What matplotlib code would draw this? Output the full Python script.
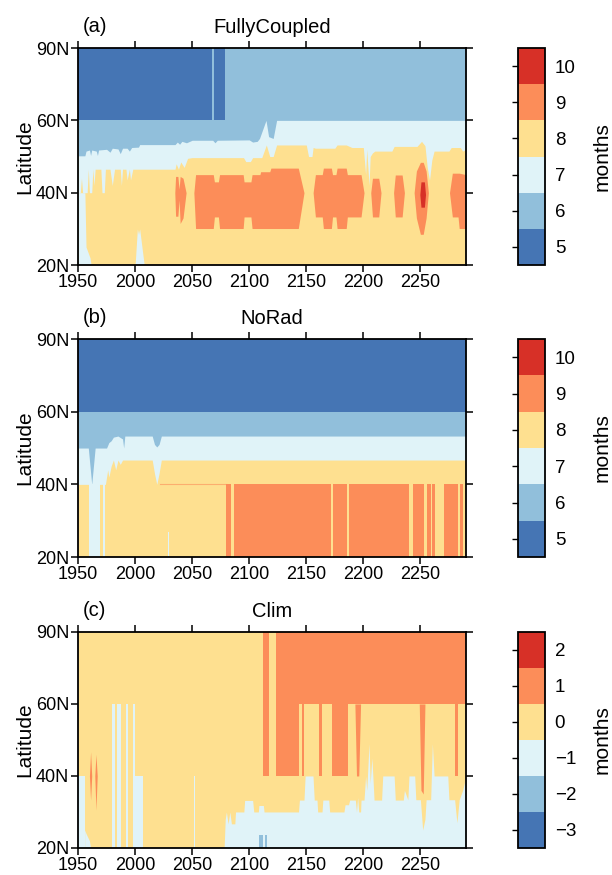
import numpy as np
import matplotlib
matplotlib.use("Agg")
import matplotlib.pyplot as plt
import matplotlib.cm as cm
from matplotlib.colors import ListedColormap, BoundaryNorm

plt.rcParams['font.family'] = ['Liberation Sans', 'DejaVu Sans']

# class colours (low -> high)
colors = ["#4575b4", "#91bfdb", "#e0f3f8", "#fee090", "#fc8d59", "#d73027"]
DB, LB, PL, YE, OR, RD = colors

# ---------------- (a) FullyCoupled ----------------
# boundary light blue (above) / pale (below)
a_b67_yr = [1950, 1956, 1957, 1960, 1961, 1962, 1966, 1967, 1968, 1975, 1978, 1980, 1985, 1987,
            1989, 1993, 1995, 1997, 2003, 2004, 2035, 2037, 2039, 2041, 2045, 2050, 2068, 2070,
            2072, 2100, 2103, 2107, 2109, 2114.7, 2117, 2121, 2124, 2290]
a_b67_lat = [50.2, 50.2, 51.5, 51.8, 50.3, 51.8, 51.5, 50.3, 51.8, 52, 51.2, 52.3, 52.1, 50.8,
             52.3, 52.3, 51.5, 52.5, 52.6, 53.3, 53.3, 54, 53.4, 54.2, 53.8, 54.5, 54.5, 53.8,
             54.5, 54.6, 54, 54.2, 55, 60, 55.5, 55, 60, 60]
# boundary pale (above) / yellow (below)
a_b78_yr = [1950, 1952, 1953, 1954, 1958, 1959, 1960, 1962, 1963, 1964, 1965, 1970, 1971, 1973,
            1974, 1978, 1980, 1982, 1987, 1988, 1989, 1992, 1993, 1995, 1996, 1998, 2035, 2036,
            2038, 2040, 2043, 2046, 2050, 2095, 2097, 2101, 2103, 2111, 2115, 2118, 2121, 2124,
            2150, 2152, 2155, 2156, 2158, 2175, 2177, 2185, 2190, 2200, 2202, 2203, 2205, 2206,
            2208, 2210, 2225, 2227, 2247, 2251, 2254, 2256, 2258, 2260, 2262, 2275, 2277, 2285,
            2287, 2290]
a_b78_lat = [40, 40, 44, 40, 40, 46.5, 40, 40, 46.5, 42, 46.5, 46.5, 40, 40,
             46.5, 46.5, 42, 46.5, 46.5, 42, 46.5, 46.5, 43.5, 46.5, 43.5, 46.5, 46.5, 48,
             46.5, 48.5, 47, 49.5, 49.7, 49.7, 48.6, 48.6, 49.7, 49.7, 53.2, 50, 50, 53.2,
             53.2, 50, 50, 52.5, 52.3, 52.3, 53.2, 53.2, 52.5, 52.5, 45, 52, 42, 50,
             51, 51.5, 51.5, 52.8, 52.8, 54.2, 53, 47, 43.5, 49, 51.5, 51.5, 52.5, 52.5,
             51.5, 52]
a_dark_spans = [(1950, 2067.5), (2069.5, 2079)]          # 60N-90N dark blue
a_pale_low_yr = [1950, 1956, 1957, 1960.5, 1961.5]
a_pale_low_top = [40, 40, 25, 22, 20]
a_pale_spike_yr = [2000, 2002, 2003, 2004, 2006, 2008]
a_pale_spike_top = [20, 30, 28.5, 30, 25, 20]
# orange blobs: (years, lower, upper)
a_orange = [
    ([2034.8, 2035.5, 2037.5, 2038.5, 2039.5, 2042, 2044.7],
     [40, 33.5, 33.5, 38, 31.5, 33, 40],
     [40, 44.5, 44.5, 41, 44.5, 44, 40]),
    ([2051.5, 2053, 2068.5, 2069.5, 2073, 2074, 2094.7, 2095.5, 2101.5, 2102.5, 2109.4, 2110,
      2118, 2119, 2143, 2148],
     [40, 30.1, 30.1, 33.3, 33.3, 30.1, 30.1, 33.3, 33.3, 30.1, 30.1, 30.1, 30.1, 30.1, 30.1, 40],
     [40, 45, 45, 43, 43, 45, 45, 43, 43, 45, 45, 45.8, 45.8, 46.8, 46.8, 40]),
    ([2156, 2158, 2164, 2165, 2172, 2173, 2176, 2177, 2185, 2186, 2198, 2200.6],
     [40, 33.3, 33.3, 30.1, 30.1, 33.3, 33.3, 30.1, 30.1, 33.3, 33.3, 40],
     [40, 45, 45, 46.8, 46.8, 45, 45, 46.8, 46.8, 45, 45, 40]),
    ([2206.5, 2208, 2213.5, 2215.5], [40, 33.3, 33.3, 40], [40, 44, 44, 40]),
    ([2226.5, 2228, 2234, 2236], [40, 33.3, 33.3, 40], [40, 44.9, 44.9, 40]),
    ([2244.5, 2246.5, 2250, 2252.5, 2255, 2257], [40, 33, 28.5, 28.5, 33, 40],
     [40, 46, 48.4, 48.4, 46, 40]),
    ([2275.5, 2278, 2283, 2284, 2290], [40, 33.3, 33.3, 30.1, 30.1], [40, 45.4, 45.4, 45.4, 45]),
]
a_red = ([2249.5, 2250.5, 2253.5, 2254.5], [39.5, 36, 36, 39.5], [39.5, 43, 43, 39.5])

# ---------------- (b) NoRad ----------------
b_b67_yr = [1950, 1959, 1960.5, 1962, 1963.5, 1965, 1975, 1977, 1979, 1981, 1985, 1989, 1990,
            1991, 2015, 2017, 2019, 2021, 2023, 2290]
b_b67_lat = [50, 50, 45, 40, 45, 50, 50, 51.5, 52, 53, 53.3, 52.5, 50,
             53.3, 53.3, 51, 50.3, 51, 53.3, 53.3]
b_b78_yr = [1950, 1974, 1976, 1977, 1979, 1981, 1983, 1985, 1987, 1989, 2015, 2017, 2019, 2021,
            2023, 2290]
b_b78_lat = [40, 40, 44, 42, 45, 46.7, 44, 46.7, 45.5, 46.7, 46.7, 43, 40, 43, 46.7, 46.7]
b_pale_low = [(1959.4, 1969.6, 20, 40), (1971.6, 1974, 20, 40), (2028.7, 2029.3, 20, 27)]
b_orange_spans = [(2080, 2084.4), (2086.5, 2171.8), (2173.5, 2186), (2187.6, 2240),
                  (2243.5, 2253), (2256, 2259.5), (2260.5, 2263), (2271, 2283), (2284.5, 2287)]

# ---------------- (c) Clim ----------------
c_orange_top = [(2112.4, 2117.4, 40, 90), (2123.5, 2290, 60, 90), (2123.5, 2143.2, 40, 60),
                (2146, 2148, 40, 60), (2161, 2164, 40, 60), (2172.6, 2184.4, 40, 60),
                (2185, 2186.5, 40, 60), (2280, 2283, 40, 60)]
c_orange_tip = [([2192.6, 2194, 2196, 2197.6], [60, 40, 40, 60]),
                ([2249, 2250.5, 2252.5, 2254], [60, 36, 35, 60])]
c_pale_yr = [2078, 2079, 2080, 2081.5, 2083, 2084.4, 2087.4, 2088, 2095.3, 2096, 2103, 2104,
             2108, 2108.5, 2112.4, 2113, 2143.2, 2144, 2148, 2149, 2155.9, 2157, 2159.4, 2160,
             2163.8, 2164.5, 2169.7, 2170.5, 2183, 2184, 2187, 2188, 2193, 2194, 2195, 2196,
             2197.6, 2198, 2200.6, 2202, 2203, 2205, 2206, 2207.5, 2209, 2209.4, 2216, 2217,
             2227, 2228, 2235, 2236, 2239, 2240, 2245, 2246, 2250, 2252, 2254, 2255, 2259,
             2260.5, 2262, 2274, 2275, 2280, 2282, 2284, 2287, 2290]
c_pale_top = [20, 28, 30, 26.7, 30, 26.7, 26.7, 30, 30, 33.2, 33.2, 30,
              30, 31.8, 31.8, 30, 30, 33.3, 33.3, 40, 40, 33.3, 33.3, 30,
              30, 33.3, 33.3, 30, 30, 32, 32, 33.3, 33.3, 30, 34, 30,
              30, 33.3, 33.3, 40, 36, 49, 38, 45, 36, 33.3, 33.3, 40,
              40, 33.3, 33.3, 36, 33.4, 40, 40, 33.4, 33.4, 25, 28, 33.4, 33.4,
              49, 40, 40, 33.4, 33.4, 27, 33.4, 36, 40]
c_pale_strips = [(1950, 1955.8, 20, 40), (1980, 1982.4, 20, 60), (1984, 1988, 20, 60),
                 (1991.8, 1994, 20, 60), (1998.5, 2000, 20, 60), (2000, 2007, 20, 40),
                 (2051.5, 2052.6, 20, 40)]
c_pale_low_yr = [1955.8, 1957, 1960, 1961]
c_pale_low_top = [25, 24, 22, 20]
c_blue_spans = [(2108.5, 2112, 20, 23.7), (2114, 2115.5, 20, 23.7)]
c_orange_left = [([1960, 1961, 1962], [40, 33.3, 40], [40, 46.7, 40]),
                 ([1964.7, 1965.7, 1966.8], [40, 30.5, 40], [40, 46, 40])]

titles = ["FullyCoupled", "NoRad", "Clim"]
tags = ["(a)", "(b)", "(c)"]
cb_levels = [np.arange(4.5, 11, 1), np.arange(4.5, 11, 1), np.arange(-3.5, 3, 1)]
cb_ticks = [list(range(5, 11)), list(range(5, 11)), list(range(-3, 3))]


def fwd(lat):
    return np.interp(lat, [20, 40, 60, 90], [0, 1, 2, 3])


def inv(y):
    return np.interp(y, [0, 1, 2, 3], [20, 40, 60, 90])


def fill(ax, x, lo, hi, c):
    ax.fill_between(x, lo, hi, color=c, lw=0)


def rect(ax, x0, x1, lo, hi, c):
    ax.fill_between([x0, x1], [lo, lo], [hi, hi], color=c, lw=0)


fig = plt.figure(figsize=(6.12, 8.75), dpi=100)
ax_pos = [[0.1275, 0.6971, 0.634, 0.248], [0.1275, 0.3634, 0.634, 0.2491],
          [0.1275, 0.0309, 0.634, 0.2469]]
axes = [fig.add_axes(p) for p in ax_pos]
for ax in axes:
    ax.set_yscale('function', functions=(fwd, inv))
    rect(ax, 1950, 2290, 20, 90, YE)

# panel a
ax = axes[0]
fill(ax, a_b78_yr, a_b78_lat, 90, PL)
fill(ax, a_b67_yr, a_b67_lat, 90, LB)
for x0, x1 in a_dark_spans:
    rect(ax, x0, x1, 60, 90, DB)
fill(ax, a_pale_low_yr, 20, a_pale_low_top, PL)
fill(ax, a_pale_spike_yr, 20, a_pale_spike_top, PL)
for yr, lo, hi in a_orange:
    fill(ax, yr, lo, hi, OR)
fill(ax, a_red[0], a_red[1], a_red[2], RD)

# panel b
ax = axes[1]
fill(ax, b_b78_yr, b_b78_lat, 90, PL)
fill(ax, b_b67_yr, b_b67_lat, 90, LB)
rect(ax, 1950, 2290, 60, 90, DB)
for x0, x1, lo, hi in b_pale_low:
    rect(ax, x0, x1, lo, hi, PL)
for x0, x1 in b_orange_spans:
    rect(ax, x0, x1, 20, 40, OR)
ax.plot([2022, 2080], [40.2, 40.2], color=OR, lw=0.8, alpha=0.6)

# panel c
ax = axes[2]
for x0, x1, lo, hi in c_orange_top:
    rect(ax, x0, x1, lo, hi, OR)
for yr, lo in c_orange_tip:
    fill(ax, yr, lo, 60, OR)
fill(ax, c_pale_yr, 20, c_pale_top, PL)
for x0, x1, lo, hi in c_pale_strips:
    rect(ax, x0, x1, lo, hi, PL)
fill(ax, c_pale_low_yr, 20, c_pale_low_top, PL)
for x0, x1, lo, hi in c_blue_spans:
    rect(ax, x0, x1, lo, hi, LB)
for yr, lo, hi in c_orange_left:
    fill(ax, yr, lo, hi, OR)

cmap = ListedColormap(colors)
for i, ax in enumerate(axes):
    ax.set_xlim(1950, 2290)
    ax.set_ylim(20, 90)
    ax.set_xticks(range(1950, 2251, 50))
    ax.set_yticks([20, 40, 60, 90])
    ax.set_yticklabels(["20N", "40N", "60N", "90N"])
    ax.minorticks_off()
    ax.tick_params(direction='out', top=True, right=True, length=5, width=1.1,
                   labelsize=13, pad=1.5)
    for s in ax.spines.values():
        s.set_linewidth(1.3)
    ax.set_ylabel("Latitude", fontsize=15, labelpad=1)
    ax.text(0.5, 1.095, titles[i], transform=ax.transAxes, ha='center', va='center',
            fontsize=14.5)
    ax.text(0.013, 1.1, tags[i], transform=ax.transAxes, ha='left', va='center',
            fontsize=14.5)

    p = ax_pos[i]
    cax = fig.add_axes([0.8464, p[1], 0.0441, p[3]])
    norm = BoundaryNorm(cb_levels[i], cmap.N)
    sm = cm.ScalarMappable(norm=norm, cmap=cmap)
    cb = fig.colorbar(sm, cax=cax, ticks=cb_ticks[i])
    cb.outline.set_linewidth(1.3)
    cax.tick_params(left=True, right=False, labelleft=False, labelright=True,
                    direction='out', length=4, width=1, labelsize=13.5, pad=3)
    cax.minorticks_off()
    cb.set_label("months", fontsize=15, labelpad=12)

fig.savefig("out.png", dpi=100)
